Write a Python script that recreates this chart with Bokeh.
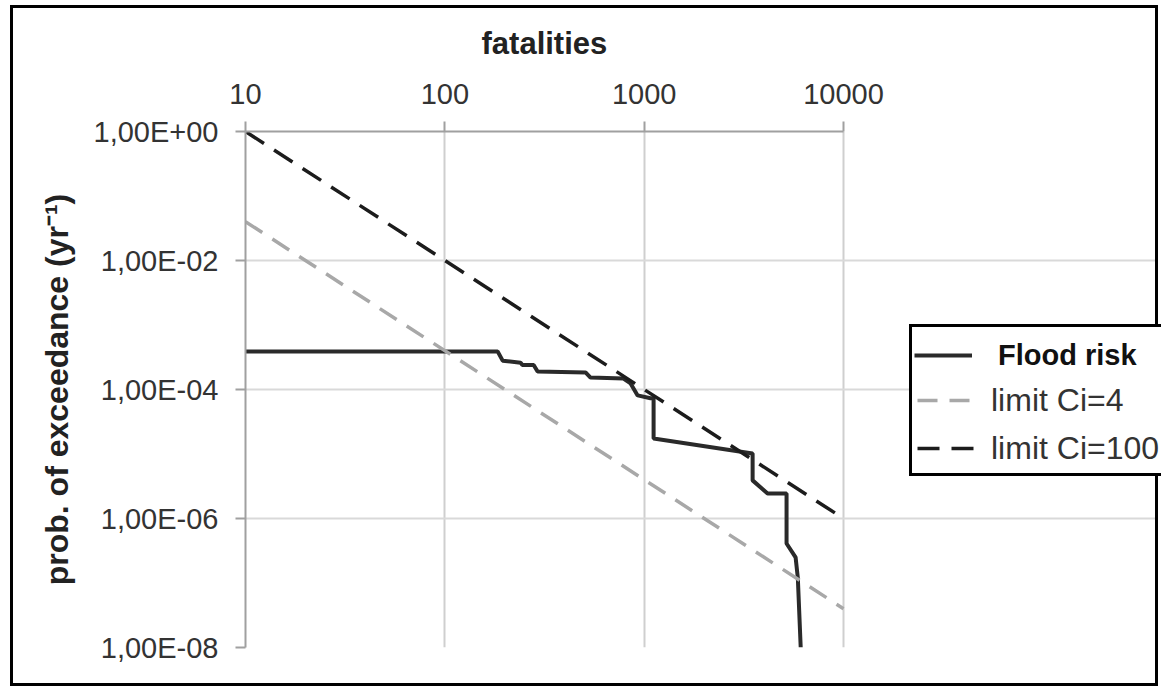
from bokeh.plotting import figure
from bokeh.models import FixedTicker, Legend, LegendItem, Title
from bokeh.embed import file_html
from bokeh.resources import INLINE

# ---- data ----
x_ticks = [10, 100, 1000, 10000]
x_tick_labels = ["10", "100", "1000", "10000"]
y_ticks = [1e-8, 1e-6, 1e-4, 1e-2, 1.0]
y_tick_labels = ["1,00E-08", "1,00E-06", "1,00E-04", "1,00E-02", "1,00E+00"]

flood_n = [10, 184, 195, 240, 245, 279, 292, 508, 538, 788, 855, 927, 1076, 1115,
           1115, 3500, 3500, 4160, 5180, 5180, 5750, 5900, 6100]
flood_p = [3.9e-4, 3.9e-4, 2.8e-4, 2.6e-4, 2.4e-4, 2.4e-4, 1.9e-4, 1.84e-4, 1.53e-4,
           1.48e-4, 1.24e-4, 8.1e-5, 7.3e-5, 7.3e-5, 1.74e-5, 1.02e-5, 3.9e-6, 2.44e-6,
           2.44e-6, 4.1e-7, 2.5e-7, 1.2e-7, 1e-8]

limit_n = [10, 10000]
limit_ci4 = [4e-2, 4e-8]
limit_ci100 = [1.0, 1e-6]

FONT = "Liberation Sans"

# layout geometry (canvas pixels): plot area spans 232..830 for 10..10000,
# the frame is stretched to the right edge so the legend can sit beside the plot area
W, H = 1148, 681
LEFT, PLOT_RIGHT = 232, 830
x_start, x_stop = x_ticks[0], x_ticks[-1]
x_end = 10 ** (1 + 3 * (W - LEFT) / (PLOT_RIGHT - LEFT))

p = figure(width=W, height=H, x_axis_type="log", y_axis_type="log",
           x_range=(x_start, x_end), y_range=(1e-8, 1.0), x_axis_location="above",
           output_backend="svg", toolbar_location=None,
           min_border_left=LEFT, min_border_right=0, min_border_top=123,
           min_border_bottom=42, background_fill_color="white",
           border_fill_color="white")
p.styles = {"border": "3px solid black", "margin": "5px 0 0 10px"}

xt = FixedTicker(ticks=x_ticks, minor_ticks=[])
yt = FixedTicker(ticks=y_ticks, minor_ticks=[])
p.xaxis.ticker = xt
p.yaxis.ticker = yt
p.xgrid.ticker = xt
p.ygrid.ticker = yt
p.xaxis.major_label_overrides = dict(zip(x_ticks, x_tick_labels))
p.yaxis.major_label_overrides = dict(zip(y_ticks, y_tick_labels))
p.xaxis.bounds = (x_start, x_stop)
p.ygrid.bounds = (x_start, x_stop)

for g in (p.xgrid, p.ygrid):
    g.grid_line_color = "#d9d9d9"
    g.grid_line_width = 2
p.xgrid.grid_line_color = "#cfcfcf"

for ax in (p.xaxis, p.yaxis):
    ax.axis_line_color = "#a0a0a0"
    ax.axis_line_width = 2
    ax.major_tick_line_color = "#a0a0a0"
    ax.major_tick_line_width = 2
    ax.major_tick_out = 10
    ax.major_tick_in = 0
    ax.minor_tick_line_color = None
    ax.major_label_text_font = FONT
    ax.major_label_text_font_size = "29px"
    ax.major_label_text_color = "#333333"
    ax.axis_label_text_font = FONT
    ax.axis_label_text_font_style = "bold"
    ax.axis_label_text_color = "#222222"

p.xaxis.major_label_standoff = 18
p.yaxis.axis_label = "prob. of exceedance (yr\u207b\u00b9)"
p.yaxis.axis_label_text_font_size = "32px"
p.yaxis.major_label_standoff = 17
p.yaxis.axis_label_standoff = 16

# small spacer between the tick labels and the "fatalities" title,
# then the title itself, centred over the plot area (not the stretched frame)
spacer = Title(text=" ", text_font_size="10px", standoff=6.5)
x_title = Title(text="fatalities", align="left", vertical_align="bottom", offset=236,
                standoff=0, text_font=FONT, text_font_size="31px",
                text_font_style="bold", text_color="#222222")
p.add_layout(spacer, "above")
p.add_layout(x_title, "above")

p.outline_line_color = None

r_flood = p.line(flood_n, flood_p, line_color="#2a2a2a", line_width=4)
r_ci4 = p.line(limit_n, limit_ci4, line_color="#a8a8a8", line_width=3.5, line_dash="20 12")
r_ci100 = p.line(limit_n, limit_ci100, line_color="#1c1c1c", line_width=3.5, line_dash="22 12")
r_blank = p.line(limit_n, limit_ci100, line_alpha=0)


def style_legend(lg):
    lg.label_text_font = FONT
    lg.label_text_font_size = "32px"
    lg.label_text_color = "#333333"
    lg.glyph_width = 58
    lg.glyph_height = 40
    lg.label_height = 40
    lg.spacing = 8
    lg.padding = 5
    lg.margin = 0
    lg.label_standoff = 16


# boxed legend with the two limit entries (first row left for the bold entry)
legend_box = Legend(items=[LegendItem(label=" ", renderers=[r_blank]),
                           LegendItem(label="limit Ci=4", renderers=[r_ci4]),
                           LegendItem(label="limit Ci=100", renderers=[r_ci100])],
                    location=(664, 171))
style_legend(legend_box)
legend_box.border_line_color = "black"
legend_box.border_line_alpha = 1
legend_box.border_line_width = 3
legend_box.background_fill_color = "white"
legend_box.background_fill_alpha = 1

# transparent overlay legend carrying the bold "Flood risk" entry
legend_bold = Legend(items=[LegendItem(label="Flood risk", renderers=[r_flood]),
                            LegendItem(label=" ", renderers=[r_blank]),
                            LegendItem(label=" ", renderers=[r_blank])],
                     location=(664, 171))
style_legend(legend_bold)
legend_bold.label_text_font_size = "29px"
legend_bold.label_text_font_style = "bold"
legend_bold.label_text_color = "#111111"
legend_bold.label_standoff = 26
legend_bold.border_line_alpha = 0
legend_bold.background_fill_alpha = 0

p.add_layout(legend_box, "center")
p.add_layout(legend_bold, "center")

open("out.html", "w").write(file_html(p, INLINE))
